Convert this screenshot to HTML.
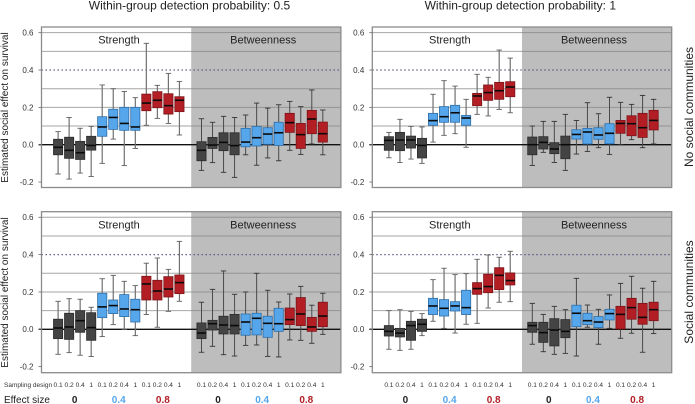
<!DOCTYPE html>
<html>
<head>
<meta charset="utf-8">
<title>Estimated social effect on survival</title>
<style>
html,body{margin:0;padding:0;background:#fff;width:695px;height:404px;overflow:hidden}
svg{display:block;font-family:"Liberation Sans",Arial,sans-serif}
</style>
</head>
<body>
<svg id="chart" width="695" height="404" viewBox="0 0 695 404" xmlns="http://www.w3.org/2000/svg"></svg>
<script>
// ---------- data ----------
const yTicks = [0.6, 0.4, 0.2, 0.0, -0.2];
const gridValues = [0.6, 0.5, 0.3, 0.2, 0.1];
const referenceValue = 0.4;
const designLabels = ['0.1', '0.2', '0.4', '1'];
const effectLabels = ['0', '0.4', '0.8'];
const metricLabels = ['Strength', 'Betweenness'];
const columnTitles = ['Within-group detection probability: 0.5', 'Within-group detection probability: 1'];
const rowTitles = ['No social communities', 'Social communities'];

// Each array: 24 boxes = Strength (12) then Betweenness (12), per effect size 0/0.4/0.8 x 4 designs
const topLeftLow = [-0.157,-0.184,-0.152,-0.17,-0.1,0.03,-0.112,-0.02,0.104,0.141,0.114,0.052,-0.1375,-0.096,-0.148,-0.175,-0.054,-0.11,-0.071,-0.086,-0.03,-0.052,0.004,-0.054];
const topLeftQ1 = [-0.054,-0.073,-0.079,-0.029,0.045,0.082,0.077,0.077,0.182,0.198,0.164,0.177,-0.086,-0.02,-0.032,-0.054,-0.011,-0.007,0.002,-0.004,0.066,-0.02,0.059,0.014];
const topLeftMedian = [-0.014,-0.03,-0.043,-0.004,0.095,0.146,0.114,0.095,0.223,0.238,0.209,0.238,-0.03,-0.002,0.0125,-0.005,0.014,0.0375,0.057,0.064,0.118,0.054,0.1375,0.059];
const topLeftQ3 = [0.029,0.04,0.018,0.045,0.15,0.19,0.2,0.2,0.271,0.284,0.273,0.257,0.016,0.039,0.064,0.064,0.0875,0.098,0.091,0.12,0.168,0.114,0.184,0.121];
const topLeftHigh = [0.07,0.146,0.088,0.098,0.32,0.3,0.285,0.252,0.543,0.318,0.382,0.339,0.139,0.12,0.152,0.146,0.159,0.223,0.196,0.214,0.232,0.204,0.293,0.186];

const topRightLow = [-0.07,-0.095,-0.077,-0.1,0.014,0.05,0.059,-0.014,0.1625,0.154,0.189,0.171,-0.111,-0.041,-0.095,-0.1375,-0.05,-0.036,-0.016,-0.052,0,0.027,-0.016,0.004];
const topRightQ1 = [-0.03,-0.032,-0.018,-0.071,0.104,0.12,0.12,0.104,0.209,0.2375,0.243,0.257,-0.054,-0.023,-0.048,-0.075,0.03,0.004,0.029,0.005,0.061,0.048,0.039,0.079];
const topRightMedian = [0.023,0.025,0.025,-0.004,0.129,0.15,0.171,0.143,0.261,0.279,0.289,0.309,0,0.0125,-0.023,0,0.055,0.068,0.052,0.061,0.114,0.1125,0.091,0.13];
const topRightQ3 = [0.043,0.066,0.046,0.034,0.168,0.204,0.211,0.157,0.275,0.32,0.334,0.3375,0.041,0.043,0.011,0.046,0.08,0.0875,0.091,0.1125,0.13,0.155,0.168,0.184];
const topRightHigh = [0.066,0.136,0.098,0.095,0.27,0.343,0.314,0.243,0.377,0.361,0.507,0.464,0.1,0.125,0.125,0.1625,0.13,0.225,0.166,0.254,0.227,0.216,0.264,0.243];

const bottomLeftLow = [-0.134,-0.125,-0.139,-0.146,-0.039,0.025,0,-0.034,0.079,0.011,0.096,0.15,-0.123,-0.091,-0.136,-0.143,-0.086,-0.084,-0.145,-0.148,-0.057,-0.059,-0.075,-0.027];
const bottomLeftQ1 = [-0.05,-0.054,-0.016,-0.059,0.0625,0.084,0.068,0.039,0.157,0.157,0.173,0.191,-0.05,-0.004,-0.025,-0.025,-0.032,-0.03,-0.043,-0.011,0.025,0.02,-0.011,0.014];
const bottomLeftMedian = [0.007,0.0125,0.046,0.009,0.12,0.127,0.109,0.105,0.243,0.205,0.216,0.25,-0.02,0.03,0.023,0.02,0.039,0.059,0.032,0.03,0.052,0.082,0.0125,0.071];
const bottomLeftQ3 = [0.054,0.086,0.1,0.089,0.193,0.157,0.186,0.161,0.284,0.2625,0.282,0.291,0.034,0.048,0.07,0.08,0.082,0.086,0.07,0.1125,0.114,0.17,0.064,0.145];
const bottomLeftHigh = [0.15,0.164,0.161,0.118,0.271,0.289,0.257,0.234,0.354,0.382,0.321,0.471,0.145,0.214,0.3125,0.1875,0.2,0.3,0.209,0.146,0.189,0.23,0.129,0.193];

const bottomRightLow = [-0.107,-0.1125,-0.107,-0.034,0.043,0.005,-0.02,0.027,0.032,0.114,0.145,0.148,-0.08,-0.12,-0.134,-0.129,-0.143,0.011,-0.08,0.005,-0.048,-0.021,-0.123,-0.023];
const bottomRightQ1 = [-0.036,-0.041,-0.059,-0.011,0.079,0.071,0.098,0.079,0.1875,0.196,0.2125,0.2375,-0.016,-0.07,-0.089,-0.045,0.014,0.025,0.009,0.05,0.002,0.054,0.027,0.046];
const bottomRightMedian = [-0.011,-0.02,0.02,0.027,0.125,0.1125,0.125,0.116,0.218,0.229,0.289,0.261,0.02,-0.018,-0.004,-0.011,0.086,0.046,0.039,0.084,0.08,0.116,0.064,0.105];
const bottomRightQ3 = [0.02,0.005,0.043,0.054,0.166,0.159,0.148,0.209,0.25,0.295,0.33,0.302,0.0375,0.0375,0.057,0.052,0.129,0.086,0.068,0.107,0.123,0.166,0.139,0.145];
const bottomRightHigh = [0.1,0.105,0.096,0.084,0.266,0.327,0.293,0.298,0.375,0.398,0.386,0.418,0.139,0.08,0.123,0.105,0.273,0.13,0.107,0.184,0.246,0.284,0.22,0.257];

const panelSeries = [
  [topLeftLow, topLeftQ1, topLeftMedian, topLeftQ3, topLeftHigh],
  [topRightLow, topRightQ1, topRightMedian, topRightQ3, topRightHigh],
  [bottomLeftLow, bottomLeftQ1, bottomLeftMedian, bottomLeftQ3, bottomLeftHigh],
  [bottomRightLow, bottomRightQ1, bottomRightMedian, bottomRightQ3, bottomRightHigh]
];

// ---------- layout ----------
const SVGNS = 'http://www.w3.org/2000/svg';
const svg = document.getElementById('chart');
const COLS = [41.5, 372.3];
const PANEL_W = 299.4;
const ROWS = [
  {top: 27, bottom: 187.5, zeroY: 144.7, unit: 186.7},
  {top: 211.7, bottom: 372.7, zeroY: 329.3, unit: 186.7}
];
const SLOT = 11.03;
const FIRST_OFFSET = 16.6;
const GROUP_FILL = ['#444444', '#56a6ec', '#b31e25'];
const GROUP_EDGE = ['#2c2c2c', '#2f6ea6', '#7c1418'];
const EFFECT_TEXT = ['#222222', '#56a6ec', '#b31e25'];

function xScale(col, i) {
  const slot = i < 12 ? i : i + 1;
  return COLS[col] + FIRST_OFFSET + slot * SLOT;
}
function yScale(row, v) {
  return ROWS[row].zeroY - v * ROWS[row].unit;
}
function make(parent, tag, attrs, content) {
  const node = document.createElementNS(SVGNS, tag);
  for (const k in attrs) node.setAttribute(k, attrs[k]);
  if (content !== undefined) node.textContent = content;
  parent.appendChild(node);
  return node;
}

// ---------- figure titles ----------
columnTitles.forEach(function (t, c) {
  const title = make(svg, 'text', {x: COLS[c] + 148, y: 9.5, 'font-size': 12, fill: '#222', 'text-anchor': 'middle'}, t);
  
  
});
rowTitles.forEach(function (t, r) {
  const cy = r === 0 ? 107 : 292;
  const title = make(svg, 'text', {x: 693, y: cy, 'font-size': 12, fill: '#222', 'text-anchor': 'middle', transform: 'rotate(-90 693 ' + cy + ')'}, t);
  
  
  const yt = r === 0 ? 107.5 : 292.5;
  const yTitle = make(svg, 'text', {x: 8, y: yt, 'font-size': 10, fill: '#222', 'text-anchor': 'middle', transform: 'rotate(-90 8 ' + yt + ')'}, 'Estimated social effect on survival');
  
  
});

// ---------- panels ----------
panelSeries.forEach(function (series, p) {
  const col = p % 2;
  const row = p < 2 ? 0 : 1;
  const left = COLS[col];
  const right = left + PANEL_W;
  const R = ROWS[row];
  const split = left + 149.7;

  const g = make(svg, 'g', {});
  
  

  const shade = make(g, 'rect', {x: split, y: R.top, width: right - split, height: R.bottom - R.top, fill: '#bdbdbd'});
  
  

  gridValues.forEach(function (v) {
    const y = yScale(row, v);
    const a = make(g, 'line', {x1: left, x2: split, y1: y, y2: y, stroke: '#a6a6a6', 'stroke-width': 1});
    
    
    const b = make(g, 'line', {x1: split, x2: right, y1: y, y2: y, stroke: '#939393', 'stroke-width': 1});
    
    
  });

  const refY = yScale(row, referenceValue);
  const ref = make(g, 'line', {x1: left, x2: right, y1: refY, y2: refY, stroke: '#55557f', 'stroke-width': 1.2, 'stroke-dasharray': '1.4 2.6'});
  
  

  const zeroLine = make(g, 'line', {x1: left - 3, x2: right, y1: yScale(row, 0), y2: yScale(row, 0), stroke: '#111', 'stroke-width': 1.4});
  
  

  // boxes
  const low = series[0], q1 = series[1], med = series[2], q3 = series[3], high = series[4];
  med.forEach(function (_, i) {
    const x = xScale(col, i);
    const group = Math.floor((i % 12) / 4);
    const inStrength = i < 12;
    const wStroke = inStrength ? '#707070' : '#4a4a4a';
    const wWidth = inStrength ? 1.2 : 1;
    const capStroke = inStrength ? '#606060' : '#333';

    const box = make(g, 'g', {});
    
    

    const whisker = make(box, 'line', {x1: x, x2: x, y1: yScale(row, low[i]), y2: yScale(row, high[i]), stroke: wStroke, 'stroke-width': wWidth});
    
    

    const capLow = make(box, 'line', {x1: x - 2.7, x2: x + 2.7, y1: yScale(row, low[i]), y2: yScale(row, low[i]), stroke: capStroke, 'stroke-width': 0.9});
    
    

    const capHigh = make(box, 'line', {x1: x - 2.7, x2: x + 2.7, y1: yScale(row, high[i]), y2: yScale(row, high[i]), stroke: capStroke, 'stroke-width': 0.9});
    
    

    const rect = make(box, 'rect', {x: x - 4.6, y: yScale(row, q3[i]), width: 9.2, height: yScale(row, q1[i]) - yScale(row, q3[i]), fill: GROUP_FILL[group], stroke: GROUP_EDGE[group], 'stroke-width': 0.8});
    
    

    const median = make(box, 'line', {x1: x - 4.6, x2: x + 4.6, y1: yScale(row, med[i]), y2: yScale(row, med[i]), stroke: '#0a0a0a', 'stroke-width': 1.6});
    
    
  });

  // frame
  const frame = make(g, 'rect', {x: left, y: R.top, width: PANEL_W, height: R.bottom - R.top, fill: 'none', stroke: '#8b8b8b', 'stroke-width': 1.3});
  
  

  // metric labels
  metricLabels.forEach(function (m, k) {
    const label = make(g, 'text', {x: left + (k === 0 ? 77.5 : 221.7), y: R.top + 16.6, 'font-size': 11, fill: '#222', 'text-anchor': 'middle'}, m);
    
    
  });

  // y axis
  yTicks.forEach(function (v) {
    const y = yScale(row, v);
    const tick = make(g, 'line', {x1: left - 3, x2: left, y1: y, y2: y, stroke: '#666', 'stroke-width': 0.8});
    
    
    const lab = make(g, 'text', {x: left - 8, y: y + 2.9, 'font-size': 8, fill: '#333', 'text-anchor': 'end'}, v.toFixed(1));
    
    
  });

  // bottom annotations
  if (row === 1) {
    med.forEach(function (_, i) {
      const lab = make(g, 'text', {x: xScale(col, i), y: 387, 'font-size': 6.6, fill: '#333', 'text-anchor': 'middle'}, designLabels[i % 4]);
      
      
    });
    [0, 12].forEach(function (start) {
      effectLabels.forEach(function (e, k) {
        const cx = (xScale(col, start + k * 4 + 1) + xScale(col, start + k * 4 + 2)) / 2;
        const lab = make(g, 'text', {x: cx, y: 403, 'font-size': 10, 'font-weight': 'bold', fill: EFFECT_TEXT[k], 'text-anchor': 'middle'}, e);
        
        
      });
    });
  }
});

const samplingCaption = make(svg, 'text', {x: 4, y: 387, 'font-size': 6.5, fill: '#333'}, 'Sampling design');


const effectCaption = make(svg, 'text', {x: 4, y: 403, 'font-size': 10, fill: '#222'}, 'Effect size');


</script>
</body>
</html>
